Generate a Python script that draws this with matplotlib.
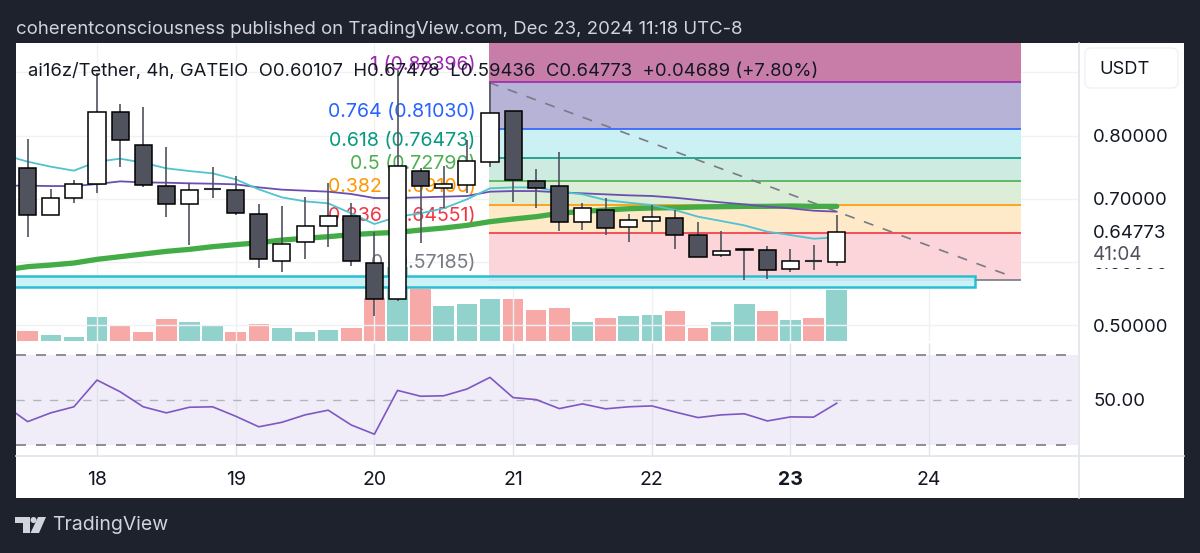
import numpy as np
import matplotlib
matplotlib.use('Agg')
import matplotlib.pyplot as plt
from matplotlib.patches import Rectangle, FancyBboxPatch, Polygon, Circle

plt.rcParams['font.family'] = ['Inter', 'DejaVu Sans']

W, H = 1200, 553

# Candles, 4h bars
opens = [.7483, .6751, .7019, .7230, .8378, .7851, .7203, .6919, .7156, .7146, .6761, .6019,
         .6324, .6577, .6735, .5987, .5413, .7440, .7167, .7214, .7588, .8383, .7277, .7198,
         .6635, .6824, .6561, .6656, .6703, .6424, .6113, .6203, .6187, .5898, .6024, .60107]
highs = [.7941, .7156, .7298, .8983, .8499, .8446, .7814, .7246, .7509, .7361, .6919, .6888,
         .7024, .7256, .6930, .6472, .9036, .7483, .7519, .7930, .88396, .8383, .7467, .7735,
         .6940, .7009, .6761, .6903, .6824, .6630, .6487, .6203, .6261, .6203, .6266, .67478]
lows = [.6403, .6751, .6940, .7098, .7509, .7193, .6708, .6277, .7009, .6740, .5903, .5850,
        .6056, .6245, .5945, .5150, .5392, .6298, .6851, .7088, .7509, .6951, .6861, .6498,
        .6508, .6424, .6324, .6477, .6203, .6087, .6087, .57185, .5740, .5845, .5877, .59436]
closes = [.6745, .7014, .7230, .8378, .7930, .7214, .6919, .7135, .7156, .6772, .6050, .6292,
          .6572, .6735, .6013, .5424, .7519, .7209, .7230, .7604, .8362, .7298, .7177, .6635,
          .6856, .6540, .6661, .6708, .6435, .6087, .6182, .6192, .5877, .6013, .6024, .64773]
volumes = [31, 17, 12, 71, 44, 27, 67, 57, 44, 27, 51, 40, 26, 34, 38, 130, 222, 157,
           104, 112, 127, 127, 94, 100, 56, 68, 76, 77, 89, 38, 57, 110, 89, 62, 68, 152]
vol_up = [0, 1, 1, 1, 0, 0, 0, 1, 1, 0, 0, 1, 1, 1, 0, 0, 1, 0,
          1, 1, 1, 0, 0, 0, 1, 0, 1, 1, 0, 0, 1, 1, 0, 1, 0, 1]

# Moving averages, first value is the bar left of the visible range
ma_cyan = [.7693, .7588, .7509, .7446, .7588, .7635, .7572, .7483, .7440, .7404, .7309, .7151, .7024,
           .6961, .6930, .6772, .6603, .6719, .6772, .6851, .6993, .7167, .7182, .7182, .7114,
           .7072, .6982, .6940, .6903, .6824, .6719, .6651, .6582, .6482, .6429, .6371, .6392]
ma_purple = [.7209, .7209, .7203, .7203, .7235, .7277, .7261, .7256, .7246, .7240, .7230, .7182, .7146,
             .7130, .7114, .7077, .7014, .7014, .7024, .7035, .7046, .7114, .7124, .7124, .7103,
             .7088, .7072, .7056, .7046, .7019, .6982, .6945, .6914, .6877, .6851, .6814, .6798]
ma_green = [.5877, .5929, .5955, .5987, .6045, .6087, .6129, .6171, .6203, .6245, .6277, .6308, .6350,
            .6377, .6403, .6435, .6456, .6472, .6508, .6540, .6582, .6640, .6682, .6719, .6772,
            .6803, .6824, .6845, .6856, .6861, .6872, .6877, .6882, .6882, .6888, .6882, .6882]
rsi = [47.6, 40.3, 44.2, 46.9, 58.8, 53.6, 46.9, 44.2, 46.7, 46.9, 42.7, 38.0, 40.0,
       43.3, 45.4, 38.8, 34.7, 54.2, 51.6, 51.8, 54.8, 60.0, 51.0, 50.1, 46.1,
       48.2, 46.0, 46.9, 47.3, 44.6, 42.1, 43.3, 43.8, 40.6, 42.4, 42.3, 48.5]

# Fibonacci retracement
fib_prices = [.88396, .81030, .76473, .72790, .69100, .64551, .57185]
fib_texts = ['1 (0.88396)', '0.764 (0.81030)', '0.618 (0.76473)', '0.5 (0.72790)',
             '0.382 (0.69100)', '0.236 (0.64551)', '0 (0.57185)']
fib_lines = ['#9c27b0', '#2962ff', '#089981', '#4caf50', '#ff9800', '#f23645', '#787b86']
fib_fills = ['#b6b3d6', '#cbf1f4', '#cdebe0', '#dcedd8', '#fee9c8', '#fbd5d9']
fib_top_fill = '#c77da8'

price_ticks = [.5, .6, .7, .8, .9]
price_labels = ['0.50000', '0.60000', '0.70000', '0.80000', '']
day_ticks = [18, 19, 20, 21, 22, 23, 24]
day_labels = ['18', '19', '20', '21', '22', '23', '24']
zone_low, zone_high = .5603, .5787

x_bars = 17.5 + np.arange(36) / 6
x_lines = 17.5 + np.arange(-1, 36) / 6


def pane(x0, y0, x1, y1, **kw):
    return fig.add_axes([x0 / W, 1 - y1 / H, (x1 - x0) / W, (y1 - y0) / H], **kw)


fig = plt.figure(figsize=(12, 5.53), dpi=100, facecolor='#1e222d')

# page furniture behind the chart
bg = pane(0, 0, W, H, zorder=0)
bg.set_xlim(0, W)
bg.set_ylim(H, 0)
bg.axis('off')
bg.add_patch(Rectangle((16, 43), 1168, 455, fc='white', ec='none'))
bg.text(16, 29, 'coherentconsciousness published on TradingView.com, Dec 23, 2024 11:18 UTC-8',
        color='#d1d4dc', fontsize=13.35, va='center')
bg.plot([1079, 1079], [43, 498], color='#e0e3eb', lw=1.2)
bg.plot([16, 1184], [456, 456], color='#e0e3eb', lw=1.2)
bg.add_patch(Polygon([(15, 517), (30, 517), (30, 533), (23, 533), (23, 523), (15, 523)], fc='#d1d4dc', ec='none'))
bg.add_patch(Circle((33.5, 520), 3, fc='#d1d4dc', ec='none'))
bg.add_patch(Polygon([(38, 517), (46, 517), (39, 533), (30.5, 533)], fc='#d1d4dc', ec='none'))
bg.text(52, 525, 'TradingView', color='#d1d4dc', fontsize=14, va='center')

# volume pane sits under the price pane
ax_vol = pane(16, 43, 1078, 341, zorder=1)
ax = ax_vol.twinx()
ax.set_zorder(2)
ax.patch.set_visible(False)
ax_vol.patch.set_visible(False)
ax.set_xlim(17.416, 25.073)
ax.set_ylim(.4755, .9463)
ax_vol.set_ylim(0, 894)

ax_vol.vlines(day_ticks, 0, 1, transform=ax_vol.get_xaxis_transform(), color='#f0f1f3', lw=1)
ax_vol.hlines(price_ticks, 0, 1, transform=ax.get_yaxis_transform(), color='#f0f1f3', lw=1)
vol_colors = ['#92d2cc' if u else '#f7a9a7' for u in vol_up]
ax_vol.bar(x_bars, volumes, width=0.148, color=vol_colors, linewidth=0)
ax_vol.set_yticks([])
ax_vol.tick_params(axis='x', length=0, labelbottom=False)

# fib bands
x0_fib, x1_fib = 20.826, 24.665
ax.fill_between([x0_fib, x1_fib], fib_prices[0], .9463, color=fib_top_fill, lw=0, zorder=1)
for i in range(6):
    ax.fill_between([x0_fib, x1_fib], fib_prices[i + 1], fib_prices[i], color=fib_fills[i], lw=0, zorder=1)
ax.hlines(fib_prices, x0_fib, x1_fib, colors=fib_lines, lw=1.2, zorder=2)
for p, t, c in zip(fib_prices, fib_texts, fib_lines):
    ax.annotate(t, (x0_fib, p), xytext=(-9.5, 12.5), textcoords='offset points', color=c,
                fontsize=14.1, ha='right', va='center', zorder=2)
ax.plot([x0_fib, 24.6], [fib_prices[0], .577], color='#787b86', lw=1.2, ls=(0, (6, 6)), zorder=2)

# support zone
ax.add_patch(Rectangle((17.3, zone_low), 24.33 - 17.3, zone_high - zone_low,
                       fc='#c6f1f6', ec='#16b8ce', lw=1.8, alpha=0.9, zorder=3))

# moving averages
ax.plot(x_lines, ma_green, color='#43ac47', lw=3.8, solid_capstyle='round', zorder=4)
ax.plot(x_lines, ma_purple, color='#6a4fb0', lw=1.3, zorder=5)
ax.plot(x_lines, ma_cyan, color='#4fc3d0', lw=1.3, zorder=5)

# candles
for x, o, h, l, c in zip(x_bars, opens, highs, lows, closes):
    ax.vlines(x, l, h, color='#50535e', lw=1.2, zorder=6)
    fill = 'white' if c >= o else '#50535e'
    body = abs(c - o)
    if body < 0.001:
        ax.hlines(o, x - 0.062, x + 0.062, color='#2a2e39', lw=1.5, zorder=7)
    else:
        ax.add_patch(Rectangle((x - 0.0615, min(o, c)), 0.123, body, fc=fill, ec='black', lw=1.1, zorder=7))

ax.yaxis.tick_right()
ax.set_yticks(price_ticks[:-1], price_labels[:-1])
ax.tick_params(axis='y', length=0, pad=11, labelsize=13.4, labelcolor='#131722')
ax.set_xticks([])
for s in ax.spines.values():
    s.set_visible(False)
for s in ax_vol.spines.values():
    s.set_visible(False)

# RSI pane
ax_rsi = pane(16, 343, 1078, 456, zorder=1)
ax_rsi.patch.set_visible(False)
ax_rsi.set_xlim(ax.get_xlim())
ax_rsi.set_ylim(25.0, 75.3)
ax_rsi.axhspan(30, 70, color='#f0edf9', lw=0, zorder=0)
ax_rsi.vlines(day_ticks, 0, 1, transform=ax_rsi.get_xaxis_transform(), color='#e0e3eb', lw=1, zorder=1)
ax_rsi.hlines([70, 30], 17.416, 25.02, color='#787b86', lw=1.2, ls=(0, (6, 6)), zorder=2)
ax_rsi.hlines([50], 17.416, 25.02, color='#b2b5be', lw=1.0, ls=(0, (6, 6)), zorder=2)
ax_rsi.plot(x_lines, rsi, color='#7e57c2', lw=1.2, zorder=3)
ax_rsi.yaxis.tick_right()
ax_rsi.set_yticks([50], ['50.00'])
ax_rsi.tick_params(axis='y', length=0, pad=11, labelsize=13.4, labelcolor='#131722')
ax_rsi.set_xticks(day_ticks, day_labels)
ax_rsi.tick_params(axis='x', length=0, pad=11, labelsize=14, labelcolor='#131722')
ax_rsi.get_xticklabels()[5].set_fontweight('bold')
for s in ax_rsi.spines.values():
    s.set_visible(False)

# things on top of the scale and chart
ov = pane(0, 0, W, H, zorder=10)
ov.set_xlim(0, W)
ov.set_ylim(H, 0)
ov.axis('off')
ov.text(28, 71, 'ai16z/Tether, 4h, GATEIO  O0.60107  H0.67478  L0.59436  C0.64773  +0.04689 (+7.80%)',
        color='#131722', fontsize=13.3, va='center')
ov.add_patch(FancyBboxPatch((1085, 48), 93, 40, boxstyle='round,pad=0,rounding_size=6',
                            fc='white', ec='#f0f1f3', lw=1))
ov.text(1099, 69, 'USDT', color='#131722', fontsize=13.2, va='center')
ov.add_patch(Rectangle((1086, 220), 92, 48, fc='white', ec='none'))
ov.text(1093, 233, '0.64773', color='#131722', fontsize=13.4, va='center')
ov.text(1093, 254.5, '41:04', color='#50535e', fontsize=13.6, va='center')

fig.savefig('out.png', dpi=100, facecolor=fig.get_facecolor())
